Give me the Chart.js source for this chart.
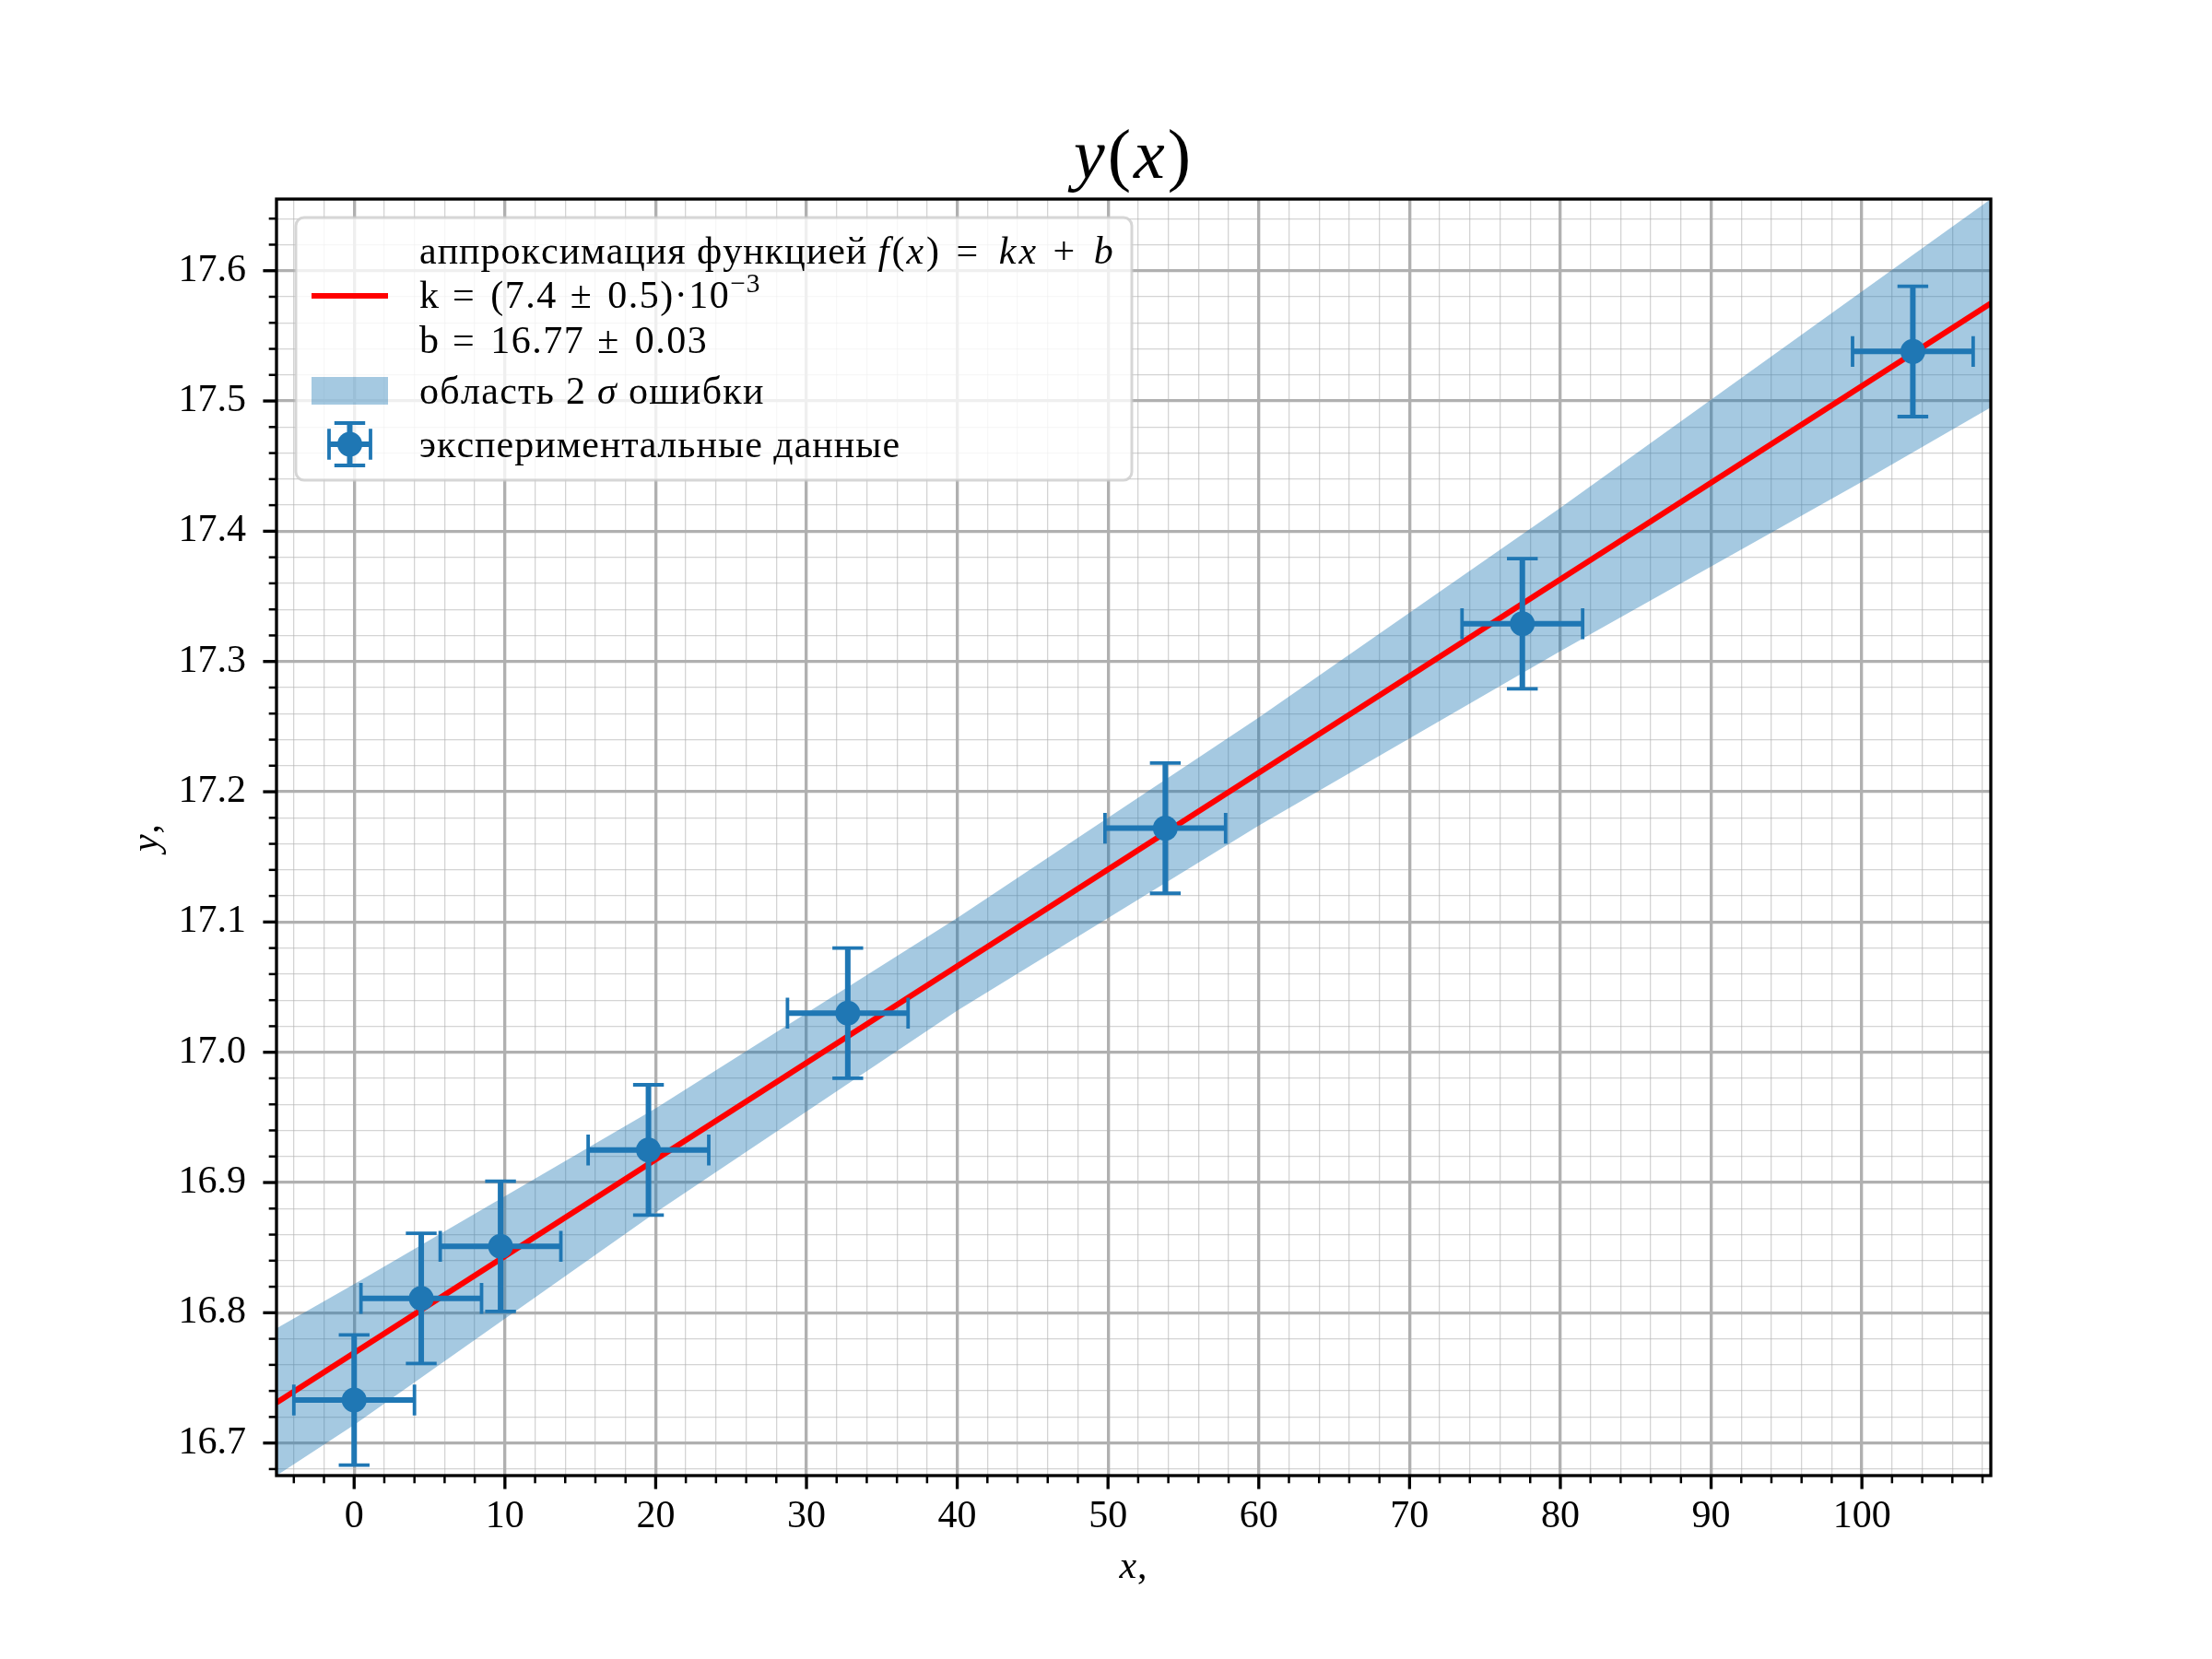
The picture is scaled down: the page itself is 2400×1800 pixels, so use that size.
<!DOCTYPE html>
<html>
<head>
<meta charset="utf-8">
<script src="https://cdn.jsdelivr.net/npm/chart.js@4.4.1/dist/chart.umd.min.js"></script>
<style>html,body{margin:0;padding:0;background:#fff}canvas{display:block}</style>
</head>
<body>
<canvas id="c" width="2400" height="1800"></canvas>
<script>
// ---------------- data ----------------
const pointX = [0, 4.45, 9.71, 19.52, 32.74, 53.80, 77.48, 103.38];
const pointY = [16.733, 16.811, 16.851, 16.925, 17.030, 17.172, 17.329, 17.538];
const xErr = [4, 4, 4, 4, 4, 4, 4, 4];
const yErr = [0.05, 0.05, 0.05, 0.05, 0.05, 0.05, 0.05, 0.05];

const fitX = [-5.15, 108.55];
const fitY = [16.731, 17.575];

const bandX = [-5.15, 0, 20, 40, 60, 80, 100, 108.55];
const bandUpper = [16.788, 16.822, 16.957, 17.103, 17.257, 17.418, 17.584, 17.655];
const bandLower = [16.675, 16.714, 16.877, 17.032, 17.174, 17.308, 17.438, 17.495];

const xMajorTicks = [0, 10, 20, 30, 40, 50, 60, 70, 80, 90, 100];
const xMajorLabels = ['0', '10', '20', '30', '40', '50', '60', '70', '80', '90', '100'];
const xMinorTicks = [-4, -2, 2, 4, 6, 8, 12, 14, 16, 18, 22, 24, 26, 28, 32, 34, 36, 38, 42, 44, 46, 48,
  52, 54, 56, 58, 62, 64, 66, 68, 72, 74, 76, 78, 82, 84, 86, 88, 92, 94, 96, 98, 102, 104, 106, 108];
const yMajorTicks = [16.7, 16.8, 16.9, 17.0, 17.1, 17.2, 17.3, 17.4, 17.5, 17.6];
const yMajorLabels = ['16.7', '16.8', '16.9', '17.0', '17.1', '17.2', '17.3', '17.4', '17.5', '17.6'];
const yMinorTicks = [16.68, 16.72, 16.74, 16.76, 16.78, 16.82, 16.84, 16.86, 16.88, 16.92, 16.94, 16.96, 16.98,
  17.02, 17.04, 17.06, 17.08, 17.12, 17.14, 17.16, 17.18, 17.22, 17.24, 17.26, 17.28, 17.32, 17.34, 17.36, 17.38,
  17.42, 17.44, 17.46, 17.48, 17.52, 17.54, 17.56, 17.58, 17.62, 17.64];

const xLimits = [-5.15, 108.55];
const yLimits = [16.675, 17.655];

const titleRuns = [{t: 'y', it: true}, {t: '(', it: false}, {t: 'x', it: true}, {t: ')', it: false}];
const xLabelRuns = [{t: 'x', it: true}, {t: ',', it: false}];
const yLabelRuns = [{t: 'y', it: true}, {t: ',', it: false}];
const legendFitLines = [
  [{t: 'аппроксимация функцией ', ls: 1}, {t: 'f', it: true, ls: 3}, {t: '(', ls: 2}, {t: 'x', it: true, ls: 3},
   {t: ')', ls: 2}, {t: ' = ', ls: 6}, {t: 'kx', it: true, ls: 3}, {t: ' + ', ls: 5}, {t: 'b', it: true, ls: 0}],
  [{t: 'k', ls: 1}, {t: ' = ', ls: 3.5}, {t: '(7.4', ls: 1.5}, {t: ' ± ', ls: 3.5}, {t: '0.5)·10', ls: 1.5}, {t: '−3', sup: true, ls: 1}],
  [{t: 'b', ls: 1}, {t: ' = ', ls: 3.5}, {t: '16.77', ls: 1.5}, {t: ' ± ', ls: 3.5}, {t: '0.03', ls: 1.5}]
];
const legendBandRuns = [{t: 'область 2 ', ls: 1.3}, {t: 'σ', it: true, ls: 1.3}, {t: ' ошибки', ls: 1.3}];
const legendDataRuns = [{t: 'экспериментальные данные', ls: 1}];

// ---------------- styles ----------------
const FONT = '"Liberation Serif", "DejaVu Serif", serif';
const BLUE = '#1f77b4';
const BAND = 'rgba(31,119,180,0.4)';
const FS = 42;

const isIn = (arr, v) => arr.findIndex(t => Math.abs(t - v) < 1e-6);

function runFont(r, size) {
  const s = r.sup ? size * 0.7 : size;
  return (r.it ? 'italic ' : '') + s + 'px ' + FONT;
}
function runWidth(ctx, r, size, lsDefault) {
  ctx.font = runFont(r, size);
  const ls = r.ls !== undefined ? r.ls : lsDefault;
  let w = 0;
  for (const ch of r.t) w += ctx.measureText(ch).width + ls;
  return w;
}
function drawRuns(ctx, runs, x, y, size, align, lsDefault) {
  lsDefault = lsDefault || 0;
  const widths = runs.map(r => runWidth(ctx, r, size, lsDefault));
  const total = widths.reduce((a, b) => a + b, 0);
  let cx = align === 'center' ? x - total / 2 : x;
  ctx.textBaseline = 'alphabetic';
  ctx.textAlign = 'left';
  runs.forEach((r, i) => {
    ctx.font = runFont(r, size);
    const ls = r.ls !== undefined ? r.ls : lsDefault;
    const yy = y + (r.sup ? -size * 0.40 : 0);
    for (const ch of r.t) {
      ctx.fillText(ch, cx, yy);
      cx += ctx.measureText(ch).width + ls;
    }
  });
  return total;
}

function roundRect(ctx, x0, y0, x1, y1, r) {
  ctx.beginPath();
  ctx.moveTo(x0 + r, y0);
  ctx.lineTo(x1 - r, y0);
  ctx.arcTo(x1, y0, x1, y0 + r, r);
  ctx.lineTo(x1, y1 - r);
  ctx.arcTo(x1, y1, x1 - r, y1, r);
  ctx.lineTo(x0 + r, y1);
  ctx.arcTo(x0, y1, x0, y1 - r, r);
  ctx.lineTo(x0, y0 + r);
  ctx.arcTo(x0, y0, x0 + r, y0, r);
  ctx.closePath();
}

function errorMark(ctx, cx, cy, x0, x1, y0, y1, cap) {
  ctx.strokeStyle = BLUE;
  ctx.lineCap = 'butt';
  ctx.lineWidth = 6;
  ctx.beginPath();
  ctx.moveTo(x0, cy); ctx.lineTo(x1, cy);
  ctx.moveTo(cx, y0); ctx.lineTo(cx, y1);
  ctx.stroke();
  ctx.lineWidth = 3.8;
  ctx.beginPath();
  ctx.moveTo(x0, cy - cap); ctx.lineTo(x0, cy + cap);
  ctx.moveTo(x1, cy - cap); ctx.lineTo(x1, cy + cap);
  ctx.moveTo(cx - cap, y0); ctx.lineTo(cx + cap, y0);
  ctx.moveTo(cx - cap, y1); ctx.lineTo(cx + cap, y1);
  ctx.stroke();
}

const decor = {
  id: 'decor',
  beforeDraw(chart) {
    const ctx = chart.ctx;
    ctx.save();
    ctx.fillStyle = '#ffffff';
    ctx.fillRect(0, 0, chart.width, chart.height);
    ctx.restore();
  },
  beforeDatasetDraw(chart, args) {
    if (args.index !== 0) return;
    const ctx = chart.ctx, xs = chart.scales.x, ys = chart.scales.y;
    ctx.save();
    pointX.forEach((x, i) => {
      const cx = xs.getPixelForValue(x), cy = ys.getPixelForValue(pointY[i]);
      errorMark(ctx, cx, cy,
        xs.getPixelForValue(x - xErr[i]), xs.getPixelForValue(x + xErr[i]),
        ys.getPixelForValue(pointY[i] + yErr[i]), ys.getPixelForValue(pointY[i] - yErr[i]), 16.7);
    });
    ctx.restore();
  },
  afterDraw(chart) {
    const ctx = chart.ctx, xs = chart.scales.x, ys = chart.scales.y, a = chart.chartArea;
    ctx.save();
    // spines
    ctx.strokeStyle = '#000';
    ctx.lineWidth = 3.33;
    ctx.strokeRect(a.left, a.top, a.right - a.left, a.bottom - a.top);
    // tick marks
    xs.ticks.forEach(t => {
      const p = xs.getPixelForValue(t.value);
      const major = isIn(xMajorTicks, t.value) >= 0;
      ctx.lineWidth = major ? 3.33 : 2.5;
      ctx.beginPath();
      ctx.moveTo(p, a.bottom); ctx.lineTo(p, a.bottom + (major ? 14.6 : 8.3));
      ctx.stroke();
    });
    ys.ticks.forEach(t => {
      const p = ys.getPixelForValue(t.value);
      const major = isIn(yMajorTicks, t.value) >= 0;
      ctx.lineWidth = major ? 3.33 : 2.5;
      ctx.beginPath();
      ctx.moveTo(a.left, p); ctx.lineTo(a.left - (major ? 14.6 : 8.3), p);
      ctx.stroke();
    });
    // title and axis labels
    ctx.fillStyle = '#000';
    const cxMid = (a.left + a.right) / 2, cyMid = (a.top + a.bottom) / 2;
    drawRuns(ctx, titleRuns, cxMid, 193, 76, 'center', 3);
    drawRuns(ctx, xLabelRuns, cxMid, 1712, FS, 'center', 1);
    ctx.save();
    ctx.translate(171, cyMid);
    ctx.rotate(-Math.PI / 2);
    drawRuns(ctx, yLabelRuns, 0, 0, FS, 'center', 1);
    ctx.restore();

    // legend
    const L = 321, T = 236, R = 1228, B = 521;
    roundRect(ctx, L, T, R, B, 9);
    ctx.fillStyle = 'rgba(255,255,255,0.8)';
    ctx.fill();
    ctx.strokeStyle = 'rgba(204,204,204,0.8)';
    ctx.lineWidth = 3;
    ctx.stroke();
    // handles
    ctx.strokeStyle = '#ff0000';
    ctx.lineWidth = 6;
    ctx.lineCap = 'butt';
    ctx.beginPath(); ctx.moveTo(338, 321); ctx.lineTo(421, 321); ctx.stroke();
    ctx.fillStyle = BAND;
    ctx.fillRect(338, 409, 83, 30);
    errorMark(ctx, 379.5, 482, 357, 402, 459, 505, 16.7);
    ctx.fillStyle = BLUE;
    ctx.beginPath(); ctx.arc(379.5, 482, 13.5, 0, Math.PI * 2); ctx.fill();
    // texts
    ctx.fillStyle = '#000';
    const tx = 455;
    drawRuns(ctx, legendFitLines[0], tx, 286, FS, 'left');
    drawRuns(ctx, legendFitLines[1], tx, 334, FS, 'left');
    drawRuns(ctx, legendFitLines[2], tx, 383, FS, 'left');
    drawRuns(ctx, legendBandRuns, tx, 438, FS, 'left');
    drawRuns(ctx, legendDataRuns, tx, 496, FS, 'left');
    ctx.restore();
  }
};

const gridColor = (majors) => (c) => (c.tick && isIn(majors, c.tick.value) >= 0) ? '#b0b0b0' : 'rgba(176,176,176,0.55)';
const gridWidth = (majors) => (c) => (c.tick && isIn(majors, c.tick.value) >= 0) ? 3.33 : 1.3;

new Chart(document.getElementById('c'), {
  type: 'scatter',
  data: {
    datasets: [
      {
        label: 'экспериментальные данные',
        data: pointX.map((x, i) => ({x: x, y: pointY[i]})),
        pointRadius: 13.5, pointHoverRadius: 13.5,
        backgroundColor: BLUE, borderWidth: 0, showLine: false
      },
      {
        label: 'fit',
        data: fitX.map((x, i) => ({x: x, y: fitY[i]})),
        showLine: true, borderColor: '#ff0000', borderWidth: 6, pointRadius: 0, fill: false
      },
      {
        label: 'band upper',
        data: bandX.map((x, i) => ({x: x, y: bandUpper[i]})),
        showLine: true, borderWidth: 0, borderColor: 'rgba(0,0,0,0)', pointRadius: 0,
        fill: '+1', backgroundColor: BAND
      },
      {
        label: 'band lower',
        data: bandX.map((x, i) => ({x: x, y: bandLower[i]})),
        showLine: true, borderWidth: 0, borderColor: 'rgba(0,0,0,0)', pointRadius: 0, fill: false
      }
    ]
  },
  options: {
    responsive: false,
    devicePixelRatio: 1,
    animation: false,
    events: [],
    layout: {padding: {top: 216, right: 240, bottom: 0, left: 0}},
    plugins: {legend: {display: false}, tooltip: {enabled: false}, title: {display: false}},
    scales: {
      x: {
        type: 'linear', position: 'bottom', min: xLimits[0], max: xLimits[1], bounds: 'data',
        afterBuildTicks: (s) => { s.ticks = xMajorTicks.concat(xMinorTicks).sort((p, q) => p - q).map(v => ({value: v})); },
        afterFit: (s) => { s.height = 199; },
        ticks: {
          autoSkip: false, maxRotation: 0, minRotation: 0, padding: 5, color: '#000',
          font: {family: FONT, size: FS},
          callback: (v) => { const i = isIn(xMajorTicks, v); return i >= 0 ? xMajorLabels[i] : ''; }
        },
        grid: {color: gridColor(xMajorTicks), lineWidth: gridWidth(xMajorTicks), drawTicks: true, tickLength: 15, tickColor: 'rgba(0,0,0,0)'},
        border: {display: false}
      },
      y: {
        type: 'linear', position: 'left', min: yLimits[0], max: yLimits[1], bounds: 'data',
        afterBuildTicks: (s) => { s.ticks = yMajorTicks.concat(yMinorTicks).sort((p, q) => p - q).map(v => ({value: v})); },
        afterFit: (s) => { s.width = 300; },
        ticks: {
          autoSkip: false, padding: 18, color: '#000',
          font: {family: FONT, size: FS},
          callback: (v) => { const i = isIn(yMajorTicks, v); return i >= 0 ? yMajorLabels[i] : ''; }
        },
        grid: {color: gridColor(yMajorTicks), lineWidth: gridWidth(yMajorTicks), drawTicks: true, tickLength: 15, tickColor: 'rgba(0,0,0,0)'},
        border: {display: false}
      }
    }
  },
  plugins: [decor]
});
</script>
</body>
</html>
